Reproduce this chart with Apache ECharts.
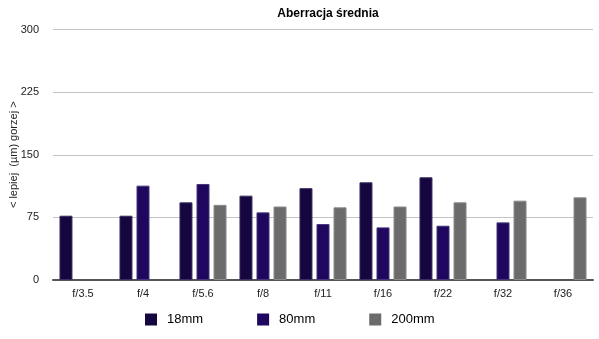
<!DOCTYPE html>
<html>
<head>
<meta charset="utf-8">
<script src="https://cdn.jsdelivr.net/npm/echarts@6/dist/echarts.min.js"></script>
<style>
  html, body { margin: 0; padding: 0; background: #fff; }
  #chart { width: 599px; height: 339px; }
</style>
</head>
<body>
<div id="chart"></div>
<script>
// Average aberration per aperture for three focal lengths
const apertures = ['f/3.5', 'f/4', 'f/5.6', 'f/8', 'f/11', 'f/16', 'f/22', 'f/32', 'f/36'];
const s18mm  = [77, 77, 93, 101, 110, 117, 123, null, null];
const s80mm  = [null, 113, 115, 81, 67, 63, 65, 69, null];
const s200mm = [null, null, 90, 88, 87, 88, 93, 95, 99];
const yTicks = [0, 75, 150, 225, 300];

const FONT = '"Liberation Sans", Arial, Helvetica, sans-serif';

function barSeries(name, data, color, border) {
  return {
    name: name,
    type: 'bar',
    data: data,
    barWidth: 13,
    barGap: '31%',
    itemStyle: { color: color, borderColor: border, borderWidth: 1 },
    emphasis: { disabled: true }
  };
}

const chart = echarts.init(document.getElementById('chart'), null, { renderer: 'canvas' });
chart.setOption({
  animation: false,
  backgroundColor: '#ffffff',
  title: {
    text: 'Aberracja średnia',
    left: 323,
    textAlign: 'center',
    top: 3,
    textStyle: { fontFamily: FONT, fontSize: 12, fontWeight: 'bold', color: '#000' }
  },
  legend: {
    left: 145,
    top: 313,
    padding: 0,
    itemWidth: 12,
    itemHeight: 12,
    itemGap: 54,
    icon: 'rect',
    itemStyle: { borderWidth: 0 },
    textStyle: { fontFamily: FONT, fontSize: 13, color: '#000', padding: [3, 0, 0, 5] },
    data: ['18mm', '80mm', '200mm']
  },
  grid: { left: 53, right: 6, top: 29.5, bottom: 59, containLabel: false, outerBoundsMode: 'none' },
  xAxis: {
    type: 'category',
    data: apertures,
    axisLine: { lineStyle: { color: '#555', width: 2 } },
    axisTick: { show: false },
    axisLabel: { fontFamily: FONT, fontSize: 11, color: '#222', margin: 8 }
  },
  yAxis: {
    type: 'value',
    min: yTicks[0],
    max: yTicks[yTicks.length - 1],
    interval: 75,
    name: '< lepiej  (µm) gorzej >',
    nameLocation: 'middle',
    nameGap: 34,
    nameMoveOverlap: false,
    nameTextStyle: { fontFamily: FONT, fontSize: 11, color: '#222' },
    axisLine: { show: false },
    axisTick: { show: false },
    axisLabel: { fontFamily: FONT, fontSize: 11, color: '#222', margin: 14 },
    splitLine: { lineStyle: { color: '#c4c4c4', width: 1 } }
  },
  series: [
    barSeries('18mm', s18mm, '#16063f', '#3a2e60'),
    barSeries('80mm', s80mm, '#1f065f', '#43357a'),
    barSeries('200mm', s200mm, '#6b6b6b', '#8a8a8a')
  ]
});
</script>
</body>
</html>
